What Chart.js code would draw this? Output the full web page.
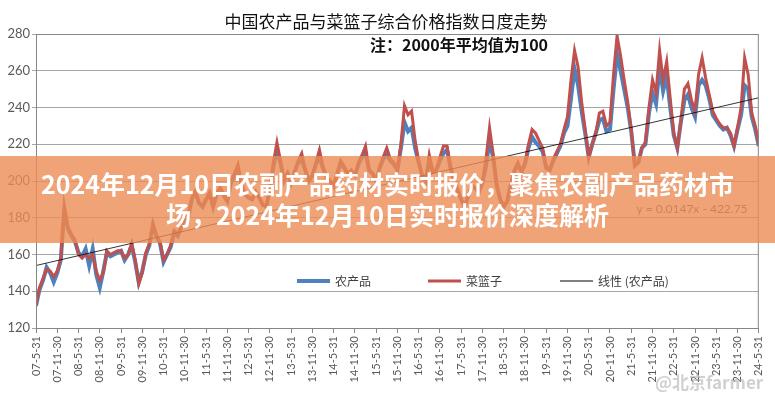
<!DOCTYPE html>
<html>
<head>
<meta charset="utf-8">
<script src="https://cdn.jsdelivr.net/npm/chart.js@4/dist/chart.umd.min.js"></script>
<style>
  body { margin: 0; background: #fff; }
  #wrap { position: relative; width: 775px; height: 400px; }
  #banner {
    position: absolute; left: 0; top: 156px; width: 775px; height: 87px;
    box-sizing: border-box; padding-top: 12px;
    background: rgba(235, 140, 85, 0.8); color: #fff;
    font: bold 25px "Noto Sans CJK SC", sans-serif; line-height: 31px; text-align: center;
  }
</style>
</head>
<body>
<div id="wrap">
  <canvas id="chart"></canvas>
  <div id="banner">2024年12月10日农副产品药材实时报价，聚焦农副产品药材市<br>场，2024年12月10日实时报价深度解析</div>
</div>
<script>
// tick labels, one every 6 months (07-5-31 .. 24-5-31)
const xLabels = ['07-5-31','07-11-30','08-5-31','08-11-30','09-5-31','09-11-30','10-5-31','10-11-30',
  '11-5-31','11-11-30','12-5-31','12-11-30','13-5-31','13-11-30','14-5-31','14-11-30','15-5-31','15-11-30',
  '16-5-31','16-11-30','17-5-31','17-11-30','18-5-31','18-11-30','19-5-31','19-11-30','20-5-31','20-11-30',
  '21-5-31','21-11-30','22-5-31','22-11-30','23-5-31','23-11-30','24-5-31'];

// monthly readings, May 2007 .. May 2024
const farmIndex = [
  132,141,146,153,150,145,150,157,
  185,174,170,167,161,159,163,154,163,149,142,151,
  161,159,160,161,162,157,160,165,156,145,151,160,
  165,176,170,166,156,160,164,172,170,175,180,181,
  190,194,188,186,190,193,186,193,196,192,189,199,
  203,205,198,193,191,190,194,191,187,186,195,208,
  217,210,200,204,199,205,210,211,206,200,203,209,
  213,207,202,200,197,204,210,207,204,205,203,209,
  213,215,206,204,200,207,212,214,211,209,206,218,
  232,227,229,218,210,203,200,212,205,206,211,215,
  217,207,200,195,190,186,192,197,196,194,199,208,
  222,213,198,190,186,189,198,205,209,205,209,218,
  224,221,219,216,207,206,211,215,219,226,230,245,
  261,252,238,226,213,220,226,233,234,227,228,250,
  269,260,250,240,227,209,210,218,220,237,248,242,
  262,249,257,240,225,218,232,244,247,240,235,252,
  255,252,245,236,233,230,228,229,225,219,228,236,
  252,250,235,228,219
];
const basketIndex = [
  133,142,147,152,151,148,151,158,
  185,175,171,168,160,158,160,158,160,151,146,150,
  162,160,161,162,162,158,160,166,157,144,150,161,
  166,177,170,167,157,160,165,173,171,176,181,182,
  191,195,188,186,190,194,186,193,197,192,189,200,
  204,209,199,193,191,190,194,191,187,186,196,210,
  221,211,200,204,199,205,211,215,206,200,203,210,
  217,208,202,200,197,204,211,208,204,206,203,210,
  214,219,206,204,200,208,213,218,212,210,206,220,
  241,236,238,222,211,203,200,214,205,206,213,219,
  219,208,200,195,190,186,192,198,196,194,200,212,
  229,215,198,190,186,189,198,206,210,205,210,220,
  228,226,222,218,208,206,212,216,220,228,235,255,
  271,262,243,228,213,220,226,237,238,230,232,258,
  279,268,255,243,228,208,210,218,221,240,255,248,
  271,255,265,245,226,218,233,250,253,244,238,258,
  267,256,247,238,234,231,229,229,226,219,229,240,
  267,258,237,230,220
];
// linear trend of 农产品, value at first and last month
const trendEnds = [154, 245.3];

const seriesNames = ['农产品', '菜篮子', '线性 (农产品)'];
const latin = 'Lato, "Noto Sans CJK SC", sans-serif';
const cjk = '"Noto Sans CJK SC", sans-serif';

const toPoints = arr => arr.map((v, i) => ({ x: i, y: v }));
const lastMonth = farmIndex.length - 1;

// titles, trend equation, legend and plot frame
const decorPlugin = {
  id: 'decor',
  afterDraw(chart) {
    const ctx = chart.ctx;
    const area = chart.chartArea;
    ctx.save();
    ctx.strokeStyle = '#868686';
    ctx.lineWidth = 1;
    ctx.strokeRect(area.left + 0.5, area.top + 0.5, area.right - area.left - 1, area.bottom - area.top);

    ctx.textBaseline = 'middle';
    ctx.textAlign = 'center';
    ctx.fillStyle = '#111';
    ctx.font = '17px ' + cjk;
    ctx.fillText('中国农产品与菜篮子综合价格指数日度走势', 386, 22);
    ctx.font = 'bold 16px ' + cjk;
    ctx.fillText('注：2000年平均值为100', 459, 45);

    ctx.fillStyle = '#595959';
    ctx.font = '12px ' + latin;
    ctx.fillText('y = 0.0147x - 422.75', 692, 209);

    // legend inside the plot
    const items = [
      { x: 297, color: 'rgb(79,129,189)', w: 4 },
      { x: 428, color: 'rgb(192,80,77)', w: 3 },
      { x: 560, color: '#000', w: 1 }
    ];
    ctx.textAlign = 'left';
    ctx.font = '12px ' + cjk;
    items.forEach((it, i) => {
      ctx.strokeStyle = it.color;
      ctx.lineWidth = it.w;
      ctx.beginPath();
      ctx.moveTo(it.x, 281);
      ctx.lineTo(it.x + 33, 281);
      ctx.stroke();
      ctx.fillStyle = '#404040';
      ctx.fillText(seriesNames[i], it.x + 38, 281);
    });

    // faint watermark
    ctx.fillStyle = 'rgba(170,170,170,0.55)';
    ctx.font = 'bold 17px ' + cjk;
    ctx.fillText('@北京farmer', 655, 383);
    ctx.restore();
  }
};

new Chart(document.getElementById('chart'), {
  type: 'line',
  data: {
    datasets: [
      {
        label: seriesNames[0],
        data: toPoints(farmIndex),
        borderColor: 'rgb(79,129,189)',
        borderWidth: 4,
        pointRadius: 0,
        order: 2
      },
      {
        label: seriesNames[1],
        data: toPoints(basketIndex),
        borderColor: 'rgb(192,80,77)',
        borderWidth: 3,
        pointRadius: 0,
        order: 1
      },
      {
        label: seriesNames[2],
        data: [{ x: 0, y: trendEnds[0] }, { x: lastMonth, y: trendEnds[1] }],
        borderColor: '#000',
        borderWidth: 0.8,
        pointRadius: 0,
        order: 0
      }
    ]
  },
  options: {
    responsive: true,
    maintainAspectRatio: false,
    animation: false,
    layout: { padding: { left: 0, top: 34, right: 11, bottom: 0 } },
    plugins: {
      legend: { display: false },
      tooltip: { enabled: false }
    },
    scales: {
      x: {
        type: 'linear',
        min: 0,
        max: lastMonth,
        afterFit: s => { s.height = 72; },
        grid: { drawOnChartArea: false, tickLength: 5, color: '#868686' },
        border: { color: '#868686' },
        ticks: {
          stepSize: 6,
          autoSkip: false,
          maxRotation: 90,
          minRotation: 90,
          color: '#595959',
          font: { family: latin, size: 11 },
          callback: v => xLabels[v / 6]
        }
      },
      y: {
        min: 120,
        max: 280,
        afterFit: s => { s.width = 36; },
        grid: { color: '#A6A6A6', tickLength: 4 },
        border: { color: '#868686' },
        ticks: {
          stepSize: 20,
          color: '#595959',
          padding: 2,
          font: { family: latin, size: 13 }
        }
      }
    }
  },
  plugins: [decorPlugin]
});
</script>
</body>
</html>
